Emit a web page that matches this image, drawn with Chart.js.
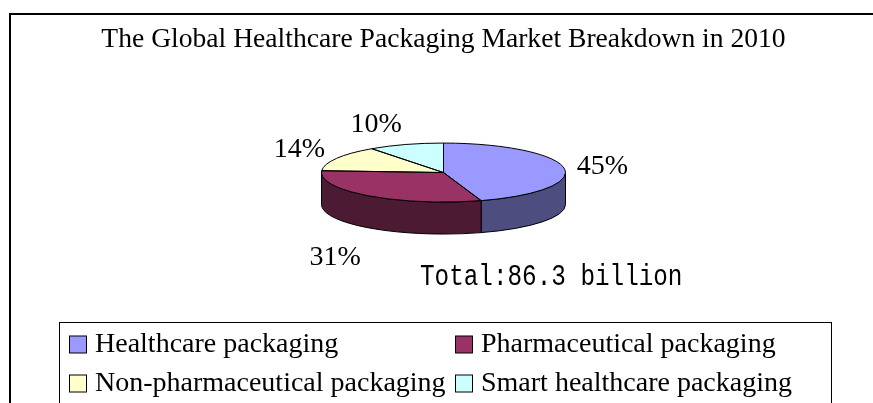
<!DOCTYPE html>
<html>
<head>
<meta charset="utf-8">
<script src="https://cdn.jsdelivr.net/npm/chart.js@4.4.1/dist/chart.umd.min.js"></script>
<style>
    body { margin: 0; background: #fff; }
    #wrap { width: 873px; height: 403px; }
</style>
</head>
<body>
<div id="wrap"><canvas id="pie" width="873" height="403"></canvas></div>
<script>
const categories = ['Healthcare packaging', 'Pharmaceutical packaging', 'Non-pharmaceutical packaging', 'Smart healthcare packaging'];
const shares = [45, 31, 14, 10];
const totalNote = 'Total:86.3 billion';
const chartTitle = 'The Global Healthcare Packaging Market Breakdown in 2010';

const topColors = ['#9999FF', '#993366', '#FFFFCC', '#CCFFFF'];
const sideColors = ['#4D4D80', '#4D1A33', '#80806A', '#6A8080'];

const TILT = 29.5 / 122;   // vertical squash of the pie
const DEPTH = 32;          // thickness of the 3d side
const SERIF = "'Liberation Serif', 'Times New Roman', serif";

function pieGeom(chart) {
    const arcs = chart.getDatasetMeta(0).data;
    return { arcs, cx: arcs[0].x, cy: arcs[0].y, r: arcs[0].outerRadius, ry: arcs[0].outerRadius * TILT };
}

// only the front half (0..PI) of the rim is visible
function visibleParts(a0, a1) {
    const parts = [];
    for (const [lo, hi] of [[0, Math.PI], [2 * Math.PI, 3 * Math.PI]]) {
        const s = Math.max(a0, lo), e = Math.min(a1, hi);
        if (e > s) parts.push([s, e]);
    }
    return parts;
}

const pie3d = {
    id: 'pie3d',
    beforeDraw(chart) {
        const ctx = chart.ctx;
        ctx.save();
        ctx.strokeStyle = '#000';
        ctx.lineWidth = 2;
        ctx.strokeRect(10, 14, 1000, 1000);
        ctx.restore();
    },
    beforeDatasetsDraw(chart) {
        const ctx = chart.ctx;
        const { arcs, cx, cy, r, ry } = pieGeom(chart);
        ctx.save();
        ctx.lineWidth = 1;
        ctx.strokeStyle = '#000';
        arcs.forEach((arc, i) => {
            for (const [s, e] of visibleParts(arc.startAngle, arc.endAngle)) {
                ctx.beginPath();
                ctx.ellipse(cx, cy, r, ry, 0, s, e);
                ctx.ellipse(cx, cy + DEPTH, r, ry, 0, e, s, true);
                ctx.closePath();
                ctx.fillStyle = sideColors[i];
                ctx.fill();
                ctx.stroke();
            }
        });
        ctx.restore();
        // squash the top face into an ellipse
        ctx.save();
        ctx.translate(0, cy);
        ctx.scale(1, TILT);
        ctx.translate(0, -cy);
    },
    afterDatasetsDraw(chart) {
        const ctx = chart.ctx;
        ctx.restore();
        const { arcs, cx, cy, r, ry } = pieGeom(chart);
        ctx.save();
        ctx.lineWidth = 1;
        ctx.strokeStyle = '#000';
        arcs.forEach(arc => {
            ctx.beginPath();
            ctx.moveTo(cx, cy);
            ctx.ellipse(cx, cy, r, ry, 0, arc.startAngle, arc.endAngle);
            ctx.closePath();
            ctx.stroke();
        });

        // percentage labels outside the pie
        ctx.fillStyle = '#000';
        ctx.font = '28px ' + SERIF;
        ctx.textBaseline = 'middle';
        const total = shares.reduce((a, b) => a + b, 0);
        arcs.forEach((arc, i) => {
            const mid = (arc.startAngle + arc.endAngle) / 2;
            const c = Math.cos(mid), s = Math.sin(mid);
            const x = cx + (r + 13) * c;
            const y = cy + s * (ry + (s > 0 ? 26 : 14) + 9) + (s > 0 ? DEPTH : 0) + 2;
            ctx.textAlign = c >= 0 ? 'left' : 'right';
            ctx.fillText(Math.round(shares[i] / total * 100) + '%', x, y);
        });

        // total note
        ctx.textAlign = 'left';
        ctx.textBaseline = 'alphabetic';
        ctx.font = "24.3px 'Liberation Mono', monospace";
        ctx.save();
        ctx.translate(420, 285);
        ctx.scale(1, 1.2);
        ctx.fillText(totalNote, 0, 0);
        ctx.restore();
        ctx.restore();
    },
    afterDraw(chart) {
        // two-column legend in a box
        const ctx = chart.ctx;
        ctx.save();
        ctx.strokeStyle = '#000';
        ctx.lineWidth = 1;
        ctx.strokeRect(59.5, 322.5, 772, 200);
        const colX = [69, 455];
        const rowY = [344, 383];
        ctx.font = '28px ' + SERIF;
        ctx.textBaseline = 'middle';
        ctx.textAlign = 'left';
        categories.forEach((name, i) => {
            const x = colX[i % 2], y = rowY[Math.floor(i / 2)];
            ctx.fillStyle = topColors[i];
            ctx.fillRect(x + 0.5, y - 8, 17, 17);
            ctx.strokeRect(x + 0.5, y - 8, 17, 17);
            ctx.fillStyle = '#000';
            ctx.fillText(name, x + 26, y + 1);
        });
        ctx.restore();
    }
};

new Chart(document.getElementById('pie'), {
    type: 'pie',
    data: {
        labels: categories,
        datasets: [{
            data: shares,
            backgroundColor: topColors,
            borderWidth: 0,
            clip: false,
        }],
    },
    options: {
        responsive: false,
        animation: false,
        events: [],
        radius: 122,
        layout: { padding: { left: 14, right: 0, top: 0, bottom: 124.5 } },
        plugins: {
            legend: { display: false },
            tooltip: { enabled: false },
            title: {
                display: true,
                text: chartTitle,
                color: '#000',
                font: { family: SERIF, size: 27.6, weight: 'normal', lineHeight: 1.2 },
                padding: { top: 23.5, bottom: 10 },
            },
        },
    },
    plugins: [pie3d],
});
</script>
</body>
</html>
